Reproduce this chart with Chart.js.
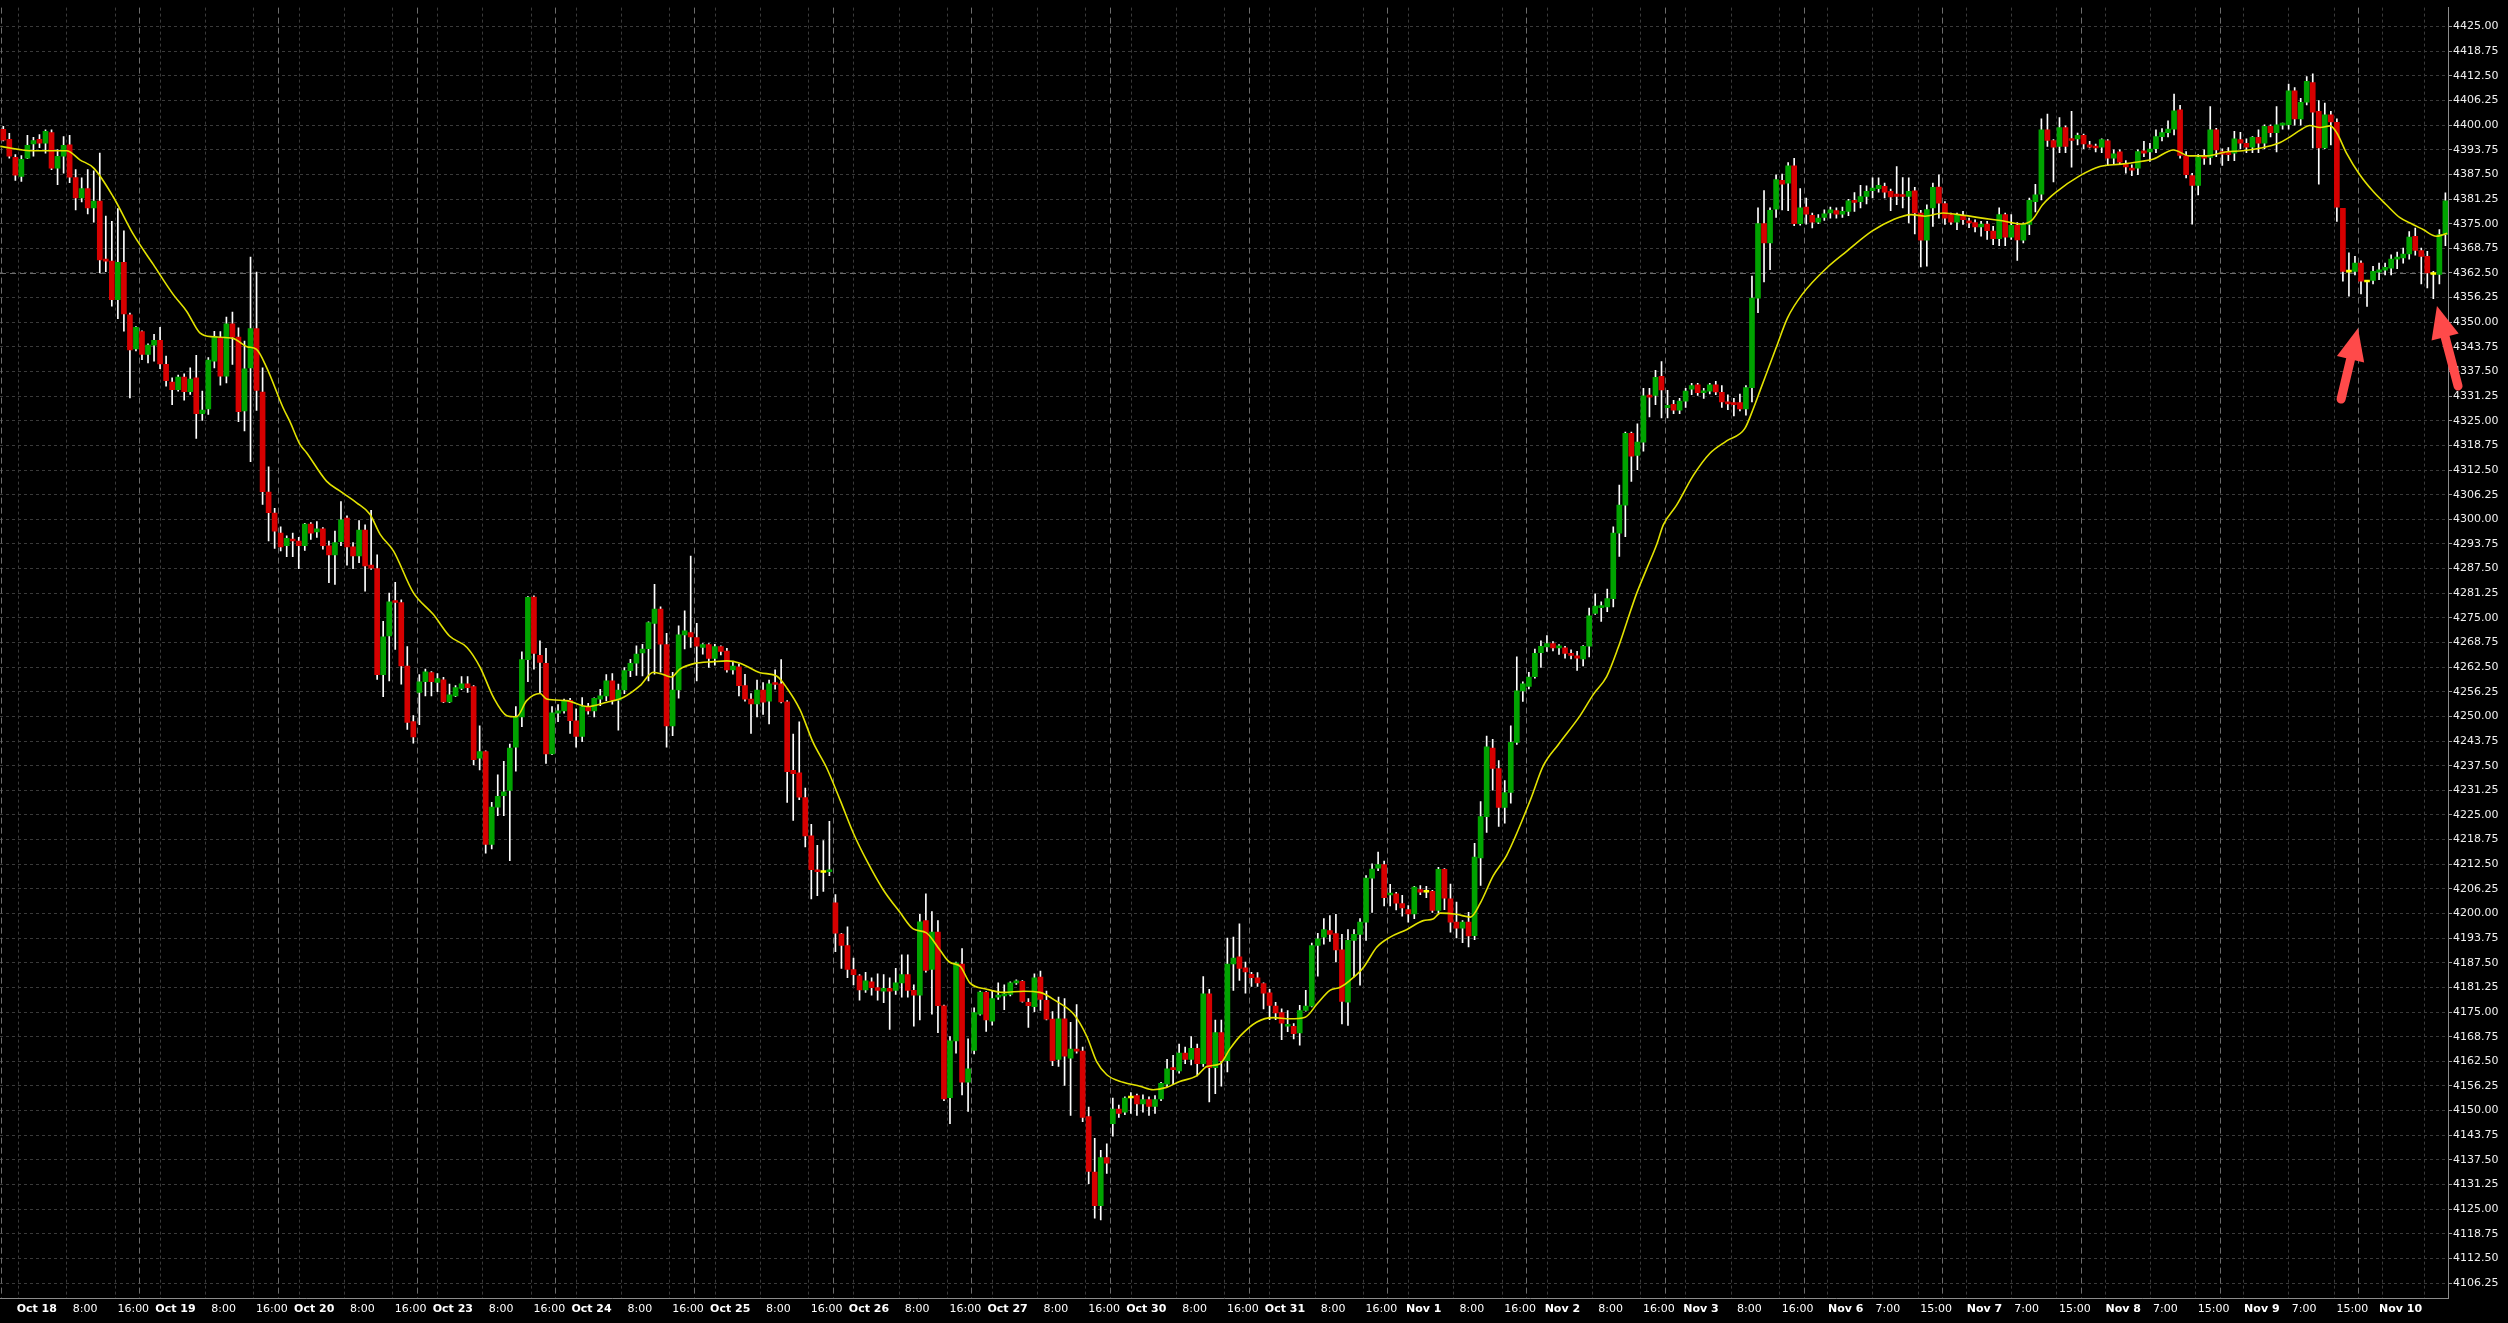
<!DOCTYPE html>
<html>
<head>
<meta charset="utf-8">
<script src="https://cdn.jsdelivr.net/npm/chart.js@4.4.1/dist/chart.umd.min.js"></script>
<style>
    html, body { margin: 0; padding: 0; background: #000; }
    canvas { display: block; }
</style>
</head>
<body>
<canvas id="chart" width="2508" height="1323"></canvas>
<script>
// hourly candles (index 0 = first bar on the left)
const opens = [
    4398.9, 4396.4, 4391.8, 4387.0, 4391.6, 4395.2, 4396.4, 4395.4, 4398.1, 4389.1,
    4392.1, 4395.0, 4386.7, 4381.5, 4383.9, 4379.0, 4380.7, 4366.0, 4365.5, 4355.7,
    4365.2, 4351.9, 4343.2, 4347.6, 4341.8, 4344.2, 4345.4, 4339.3, 4334.8, 4332.9,
    4336.1, 4332.4, 4335.9, 4326.8, 4328.0, 4340.1, 4345.9, 4336.3, 4349.6, 4346.2,
    4327.5, 4338.4, 4348.4, 4332.3, 4306.9, 4301.6, 4296.5, 4293.3, 4295.0, 4294.5,
    4293.3, 4298.8, 4296.8, 4297.6, 4293.3, 4291.0, 4294.3, 4300.3, 4293.0, 4290.7,
    4297.3, 4288.4, 4287.5, 4260.6, 4270.4, 4279.3, 4278.9, 4262.8, 4248.7, 4256.1,
    4258.8, 4261.1, 4258.6, 4259.3, 4253.7, 4255.2, 4257.1, 4258.3, 4257.6, 4239.4,
    4241.1, 4217.5, 4227.0, 4229.9, 4231.2, 4242.2, 4249.9, 4264.4, 4280.3, 4265.5,
    4263.5, 4240.5, 4250.8, 4251.4, 4254.1, 4248.9, 4244.9, 4252.5, 4251.4, 4254.4,
    4255.2, 4259.0, 4254.1, 4256.7, 4261.6, 4263.5, 4266.1, 4267.2, 4273.6, 4277.2,
    4268.2, 4247.6, 4256.7, 4270.7, 4271.3, 4270.0, 4267.5, 4268.2, 4264.7, 4267.7,
    4266.6, 4261.8, 4262.6, 4257.8, 4254.4, 4253.2, 4256.7, 4253.9, 4258.6, 4258.3,
    4253.7, 4236.3, 4235.7, 4229.4, 4219.7, 4211.1, 4210.4, 4210.6, 4202.7, 4194.8,
    4191.9, 4185.8, 4184.2, 4180.6, 4182.7, 4181.2, 4180.3, 4181.0, 4180.5, 4182.4,
    4184.5, 4180.5, 4179.3, 4198.2, 4185.8, 4195.3, 4176.6, 4153.3, 4167.7, 4187.2,
    4157.2, 4165.3, 4174.5, 4180.0, 4172.7, 4178.8, 4179.1, 4179.5, 4182.4, 4182.8,
    4177.5, 4176.4, 4183.9, 4178.0, 4173.2, 4163.0, 4173.3, 4163.3, 4165.6, 4165.1,
    4148.5, 4134.4, 4125.9, 4138.1, 4146.7, 4150.4, 4149.6, 4153.2, 4153.8, 4151.7,
    4152.8, 4151.1, 4153.0, 4156.7, 4160.9, 4160.1, 4164.6, 4163.0, 4165.8, 4161.9,
    4179.6, 4160.9, 4169.8, 4162.7, 4187.2, 4189.0, 4186.2, 4184.6, 4183.7, 4182.2,
    4179.9, 4176.5, 4174.9, 4171.4, 4171.4, 4169.7, 4175.4, 4176.5, 4191.9, 4194.0,
    4195.7, 4194.9, 4190.8, 4177.5, 4193.2, 4194.7, 4197.8, 4209.0, 4211.5, 4212.4,
    4204.7, 4205.0, 4202.5, 4201.0, 4199.9, 4206.1, 4205.4, 4205.6, 4200.8, 4211.2,
    4203.7, 4197.8, 4196.3, 4197.8, 4194.4, 4214.1, 4224.6, 4242.0, 4236.8, 4226.9,
    4230.7, 4243.4, 4256.5, 4257.6, 4260.1, 4266.2, 4267.6, 4268.5, 4267.4, 4267.4,
    4266.0, 4265.4, 4264.6, 4267.8, 4276.1, 4277.6, 4277.8, 4279.9, 4296.5, 4303.6,
    4321.8, 4316.2, 4319.6, 4331.4, 4331.4, 4336.3, 4328.3, 4329.2, 4327.7, 4330.0,
    4333.0, 4334.1, 4332.1, 4332.5, 4334.1, 4332.2, 4329.6, 4329.4, 4329.6, 4328.0,
    4333.4, 4356.1, 4375.0, 4370.1, 4378.7, 4386.0, 4385.3, 4389.7, 4375.0, 4379.2,
    4377.1, 4375.4, 4376.6, 4377.7, 4378.3, 4377.4, 4378.1, 4380.8, 4380.6, 4381.9,
    4383.4, 4383.9, 4384.5, 4383.2, 4382.5, 4382.3, 4381.9, 4383.3, 4377.7, 4370.8,
    4379.0, 4384.3, 4380.1, 4377.3, 4375.4, 4377.1, 4375.6, 4375.3, 4374.2, 4374.9,
    4373.1, 4371.2, 4377.3, 4371.6, 4374.6, 4370.8, 4374.8, 4380.6, 4382.5, 4398.8,
    4396.1, 4394.6, 4399.4, 4396.5, 4396.5, 4397.4, 4395.0, 4394.6, 4394.4, 4396.0,
    4391.6, 4393.2, 4390.1, 4388.9, 4389.1, 4393.5, 4393.2, 4394.0, 4397.1, 4398.1,
    4399.0, 4403.9, 4392.3, 4387.2, 4384.7, 4392.0, 4391.8, 4398.8, 4393.3, 4393.2,
    4392.9, 4396.3, 4395.4, 4394.4, 4396.9, 4395.4, 4399.7, 4398.1, 4400.0, 4400.1,
    4408.7, 4401.6, 4405.8, 4410.8, 4403.5, 4394.2, 4402.6, 4400.7, 4378.9, 4362.7,
    4362.9, 4365.0, 4360.2, 4360.6, 4362.7, 4363.2, 4363.7, 4366.0, 4366.3, 4367.3,
    4371.8, 4368.2, 4366.7, 4362.1, 4362.1, 4372.2,
];
const highs = [
    4399.7, 4397.9, 4392.5, 4392.3, 4397.4, 4396.9, 4397.6, 4398.8, 4398.8, 4393.8,
    4397.1, 4397.4, 4388.7, 4386.6, 4388.7, 4388.4, 4392.9, 4376.9, 4375.6, 4378.8,
    4373.2, 4352.3, 4348.9, 4347.8, 4344.5, 4346.9, 4348.7, 4341.4, 4335.9, 4336.6,
    4336.9, 4338.4, 4341.6, 4332.5, 4341.0, 4347.7, 4347.6, 4351.3, 4352.6, 4348.6,
    4345.2, 4366.5, 4362.7, 4338.4, 4313.3, 4302.8, 4298.1, 4295.8, 4296.5, 4295.4,
    4299.0, 4299.2, 4299.4, 4297.9, 4294.5, 4297.0, 4304.5, 4300.9, 4294.1, 4299.7,
    4298.6, 4302.3, 4291.0, 4274.1, 4281.3, 4284.0, 4279.6, 4267.7, 4250.2, 4260.6,
    4262.0, 4261.4, 4260.9, 4259.9, 4258.2, 4257.8, 4260.1, 4260.1, 4257.8, 4247.6,
    4241.3, 4228.2, 4235.2, 4238.6, 4243.0, 4252.5, 4266.4, 4280.4, 4280.6, 4269.2,
    4267.3, 4252.5, 4253.0, 4254.4, 4254.6, 4251.9, 4254.8, 4253.3, 4254.7, 4256.9,
    4260.6, 4260.9, 4258.2, 4262.4, 4264.5, 4267.9, 4268.3, 4274.0, 4283.5, 4277.8,
    4271.1, 4261.2, 4273.0, 4276.8, 4290.7, 4273.6, 4268.5, 4268.5, 4268.3, 4267.9,
    4267.3, 4263.7, 4263.3, 4260.7, 4255.8, 4259.2, 4258.6, 4259.2, 4261.8, 4264.4,
    4254.0, 4245.5, 4248.6, 4231.8, 4222.6, 4217.3, 4218.5, 4223.4, 4204.8, 4195.0,
    4196.6, 4188.7, 4184.5, 4185.1, 4183.7, 4184.7, 4184.5, 4183.7, 4186.1, 4189.5,
    4189.5, 4181.9, 4199.8, 4205.0, 4200.5, 4198.2, 4176.8, 4168.8, 4187.7, 4191.1,
    4168.2, 4176.1, 4180.3, 4180.2, 4180.3, 4182.4, 4181.9, 4182.7, 4183.2, 4183.0,
    4178.4, 4184.7, 4185.4, 4180.3, 4175.1, 4178.8, 4178.4, 4172.4, 4176.9, 4166.1,
    4150.9, 4143.0, 4139.9, 4141.6, 4153.2, 4151.4, 4153.5, 4154.6, 4154.2, 4154.0,
    4153.5, 4153.8, 4157.2, 4163.0, 4164.0, 4166.9, 4166.1, 4168.8, 4166.9, 4184.0,
    4180.8, 4173.0, 4173.0, 4193.8, 4194.0, 4197.4, 4187.7, 4185.1, 4185.0, 4182.4,
    4180.8, 4177.5, 4175.8, 4175.4, 4172.1, 4176.7, 4180.5, 4192.5, 4195.0, 4198.7,
    4199.5, 4199.8, 4194.7, 4195.9, 4195.9, 4198.7, 4209.6, 4212.6, 4215.6, 4213.3,
    4207.4, 4205.4, 4204.6, 4202.0, 4206.9, 4207.1, 4206.9, 4205.9, 4211.7, 4211.4,
    4207.5, 4202.9, 4198.2, 4200.3, 4217.8, 4228.4, 4245.0, 4244.2, 4238.8, 4233.7,
    4247.6, 4265.1, 4258.8, 4261.2, 4267.1, 4269.2, 4270.5, 4269.0, 4268.2, 4267.8,
    4266.9, 4266.5, 4268.0, 4277.5, 4281.1, 4279.1, 4282.3, 4298.1, 4308.7, 4322.1,
    4322.1, 4324.2, 4333.2, 4333.2, 4337.8, 4340.0, 4332.7, 4330.2, 4330.7, 4333.2,
    4334.5, 4334.5, 4333.2, 4334.5, 4335.0, 4333.9, 4331.6, 4330.7, 4331.8, 4333.9,
    4361.7, 4379.0, 4383.4, 4379.0, 4387.4, 4387.6, 4390.5, 4391.6, 4383.9, 4381.5,
    4377.7, 4377.3, 4378.5, 4379.2, 4379.0, 4379.2, 4381.2, 4382.9, 4384.7, 4384.6,
    4386.6, 4386.6, 4385.3, 4383.8, 4389.5, 4386.7, 4386.6, 4384.2, 4378.4, 4379.8,
    4385.3, 4387.4, 4380.6, 4377.7, 4377.7, 4378.1, 4376.4, 4376.0, 4375.6, 4375.6,
    4374.3, 4379.0, 4377.7, 4377.3, 4375.3, 4375.2, 4381.5, 4385.0, 4401.6, 4402.8,
    4396.3, 4401.9, 4399.8, 4403.5, 4398.0, 4397.7, 4395.9, 4395.2, 4396.5, 4396.3,
    4393.7, 4393.7, 4391.0, 4389.9, 4393.7, 4395.9, 4395.4, 4398.8, 4399.1, 4401.1,
    4407.9, 4405.0, 4393.3, 4387.8, 4392.5, 4393.7, 4404.7, 4399.2, 4394.0, 4394.3,
    4398.4, 4398.2, 4396.5, 4397.1, 4398.8, 4400.1, 4400.1, 4404.7, 4400.5, 4410.4,
    4409.5, 4406.8, 4412.3, 4413.0, 4406.2, 4405.6, 4403.5, 4401.6, 4378.9, 4367.6,
    4366.7, 4365.6, 4360.4, 4364.2, 4365.0, 4365.0, 4367.1, 4367.8, 4368.8, 4373.0,
    4373.9, 4368.8, 4368.0, 4362.9, 4373.5, 4382.8,
];
const lows = [
    4396.0, 4391.6, 4386.0, 4385.7, 4391.5, 4392.1, 4394.3, 4392.9, 4388.7, 4384.9,
    4387.8, 4385.4, 4378.5, 4380.5, 4377.5, 4375.4, 4362.5, 4362.8, 4354.1, 4350.9,
    4347.7, 4330.8, 4342.7, 4340.5, 4339.7, 4340.1, 4338.2, 4333.8, 4329.1, 4332.5,
    4330.2, 4331.7, 4320.5, 4325.1, 4326.6, 4338.4, 4334.0, 4334.6, 4339.3, 4324.8,
    4322.4, 4314.6, 4327.6, 4303.8, 4294.5, 4292.6, 4292.0, 4290.5, 4290.5, 4287.5,
    4292.1, 4294.9, 4295.4, 4292.4, 4283.9, 4283.5, 4293.3, 4288.4, 4287.5, 4289.0,
    4281.8, 4287.3, 4259.4, 4255.0, 4259.0, 4267.0, 4258.2, 4246.7, 4243.2, 4247.9,
    4255.2, 4255.2, 4256.3, 4253.5, 4253.5, 4255.0, 4256.8, 4256.1, 4237.7, 4236.4,
    4215.3, 4216.4, 4224.8, 4224.8, 4213.4, 4236.1, 4247.4, 4258.8, 4262.0, 4255.8,
    4238.1, 4240.3, 4248.7, 4250.8, 4245.7, 4242.2, 4243.6, 4250.6, 4249.9, 4252.7,
    4254.0, 4253.1, 4246.5, 4255.8, 4260.1, 4260.4, 4260.3, 4259.0, 4260.7, 4261.2,
    4242.2, 4245.1, 4254.6, 4267.1, 4267.5, 4259.0, 4265.8, 4262.4, 4263.0, 4265.6,
    4261.2, 4260.7, 4255.2, 4253.9, 4245.7, 4249.9, 4250.5, 4248.1, 4256.9, 4253.4,
    4228.2, 4223.6, 4228.9, 4216.9, 4203.7, 4204.5, 4205.6, 4209.6, 4190.3, 4186.1,
    4183.7, 4181.9, 4178.0, 4180.0, 4179.3, 4178.0, 4177.4, 4170.6, 4179.5, 4178.8,
    4178.8, 4171.4, 4173.0, 4185.1, 4174.5, 4169.8, 4152.5, 4146.7, 4164.6, 4154.0,
    4149.8, 4164.4, 4174.2, 4170.1, 4171.7, 4178.2, 4175.6, 4179.1, 4182.0, 4177.5,
    4171.1, 4175.1, 4175.4, 4173.0, 4161.4, 4161.2, 4156.4, 4148.8, 4164.6, 4147.2,
    4131.5, 4122.7, 4122.3, 4134.1, 4143.5, 4148.3, 4149.0, 4149.3, 4148.8, 4149.6,
    4148.8, 4149.3, 4152.5, 4156.1, 4156.7, 4159.5, 4161.9, 4161.6, 4158.8, 4161.2,
    4152.2, 4154.3, 4156.2, 4159.8, 4180.5, 4183.0, 4179.8, 4181.5, 4181.5, 4175.8,
    4173.1, 4173.1, 4168.0, 4170.0, 4168.2, 4166.6, 4175.2, 4176.3, 4184.1, 4192.2,
    4192.9, 4187.7, 4172.0, 4171.6, 4183.9, 4181.8, 4193.2, 4200.3, 4210.9, 4201.9,
    4201.9, 4200.9, 4199.3, 4197.8, 4198.7, 4204.8, 4204.0, 4200.3, 4200.1, 4201.0,
    4195.3, 4193.8, 4192.6, 4191.5, 4193.4, 4207.1, 4220.6, 4231.3, 4222.1, 4222.9,
    4228.0, 4242.9, 4253.8, 4257.0, 4259.7, 4262.4, 4266.5, 4266.6, 4265.7, 4264.8,
    4264.6, 4261.7, 4262.8, 4265.1, 4275.9, 4274.1, 4276.6, 4277.8, 4290.6, 4295.6,
    4309.6, 4312.6, 4317.3, 4326.0, 4329.1, 4325.7, 4325.7, 4326.8, 4326.8, 4328.4,
    4331.6, 4331.4, 4330.7, 4331.8, 4331.6, 4328.4, 4327.8, 4326.2, 4327.5, 4326.4,
    4329.8, 4352.4, 4360.2, 4363.3, 4376.6, 4378.5, 4378.3, 4374.5, 4374.6, 4374.9,
    4373.9, 4375.0, 4375.8, 4376.4, 4376.4, 4376.6, 4377.0, 4378.1, 4379.0, 4380.0,
    4381.5, 4383.0, 4381.5, 4378.3, 4379.8, 4379.0, 4375.2, 4372.4, 4364.0, 4364.2,
    4374.3, 4376.4, 4374.8, 4374.8, 4373.5, 4374.8, 4374.0, 4372.9, 4371.8, 4371.0,
    4369.7, 4369.4, 4369.4, 4371.0, 4365.7, 4370.1, 4372.2, 4378.0, 4381.0, 4394.6,
    4385.6, 4393.0, 4393.0, 4389.3, 4395.0, 4394.0, 4394.2, 4393.2, 4393.0, 4389.7,
    4390.0, 4390.0, 4387.8, 4387.2, 4387.4, 4392.0, 4390.8, 4393.0, 4396.0, 4397.0,
    4397.5, 4391.6, 4386.6, 4374.9, 4382.3, 4390.0, 4390.0, 4392.0, 4389.8, 4391.0,
    4391.0, 4394.0, 4393.0, 4393.0, 4393.0, 4394.0, 4397.0, 4393.2, 4399.0, 4399.0,
    4400.0, 4400.0, 4405.1, 4394.2, 4385.0, 4394.0, 4395.0, 4375.6, 4360.4, 4356.6,
    4362.0, 4357.2, 4354.0, 4359.7, 4360.8, 4362.0, 4362.0, 4363.6, 4365.0, 4366.0,
    4367.0, 4359.7, 4358.7, 4356.0, 4359.7, 4369.4,
];
const closes = [
    4396.2, 4392.1, 4387.3, 4391.3, 4394.9, 4396.1, 4395.4, 4398.4, 4389.1, 4392.1,
    4394.9, 4386.8, 4381.5, 4383.9, 4379.0, 4380.7, 4365.8, 4365.5, 4355.7, 4365.2,
    4352.1, 4343.0, 4348.7, 4341.8, 4344.2, 4345.4, 4339.4, 4335.2, 4332.9, 4336.1,
    4332.4, 4335.6, 4326.8, 4327.7, 4340.4, 4346.4, 4336.3, 4349.6, 4346.2, 4327.3,
    4338.2, 4348.4, 4332.7, 4307.0, 4301.7, 4297.0, 4293.0, 4295.2, 4294.5, 4293.3,
    4298.8, 4296.5, 4297.6, 4293.3, 4291.0, 4294.1, 4299.9, 4293.0, 4290.7, 4297.3,
    4288.2, 4287.6, 4260.6, 4270.2, 4279.1, 4278.9, 4262.8, 4248.5, 4244.8, 4258.8,
    4261.3, 4258.8, 4259.6, 4253.7, 4255.5, 4257.3, 4258.3, 4257.3, 4239.0, 4241.1,
    4217.5, 4227.0, 4229.7, 4230.9, 4242.0, 4249.8, 4264.4, 4280.2, 4266.0, 4263.7,
    4240.5, 4250.9, 4251.4, 4254.0, 4248.9, 4244.9, 4252.5, 4251.4, 4254.6, 4255.2,
    4259.0, 4254.1, 4256.7, 4261.6, 4263.5, 4265.8, 4267.1, 4273.8, 4277.2, 4268.3,
    4247.6, 4256.7, 4270.7, 4271.7, 4270.2, 4267.8, 4268.2, 4264.7, 4267.7, 4266.5,
    4261.8, 4262.8, 4257.8, 4254.4, 4253.2, 4256.7, 4253.6, 4258.3, 4258.1, 4253.7,
    4236.0, 4235.5, 4229.5, 4219.7, 4211.1, 4210.6, 4210.4, 4211.1, 4195.0, 4191.9,
    4185.8, 4184.5, 4180.6, 4182.9, 4181.2, 4180.5, 4181.0, 4180.3, 4182.4, 4184.5,
    4180.5, 4179.3, 4197.9, 4185.6, 4195.3, 4176.6, 4153.0, 4167.7, 4187.5, 4157.2,
    4160.6, 4174.9, 4180.1, 4173.0, 4178.4, 4179.2, 4179.5, 4182.4, 4182.9, 4177.7,
    4176.6, 4183.7, 4178.2, 4173.2, 4162.7, 4173.3, 4163.8, 4165.6, 4165.1, 4148.3,
    4134.6, 4125.9, 4138.1, 4136.7, 4150.4, 4149.3, 4153.2, 4153.2, 4151.7, 4152.8,
    4151.1, 4152.8, 4156.9, 4160.6, 4160.4, 4164.6, 4163.0, 4165.8, 4161.9, 4179.6,
    4160.9, 4169.8, 4162.7, 4187.2, 4188.7, 4186.1, 4185.2, 4183.7, 4182.4, 4179.8,
    4176.7, 4174.8, 4172.2, 4171.9, 4169.5, 4175.4, 4176.5, 4191.9, 4193.6, 4195.9,
    4194.7, 4190.8, 4177.7, 4193.2, 4194.7, 4197.8, 4209.0, 4211.3, 4212.4, 4204.0,
    4205.1, 4202.6, 4201.4, 4199.9, 4206.7, 4205.4, 4205.4, 4200.8, 4211.2, 4203.9,
    4197.8, 4196.3, 4197.8, 4194.3, 4214.3, 4224.6, 4242.3, 4236.8, 4226.9, 4230.7,
    4243.4, 4256.5, 4258.3, 4260.0, 4266.0, 4267.8, 4268.5, 4267.4, 4267.6, 4266.0,
    4265.5, 4264.8, 4267.8, 4275.5, 4278.0, 4277.8, 4279.9, 4296.5, 4303.6, 4321.8,
    4316.0, 4319.6, 4331.3, 4331.0, 4336.0, 4332.8, 4328.9, 4327.7, 4330.0, 4332.5,
    4333.9, 4332.1, 4332.5, 4334.1, 4332.3, 4329.8, 4329.3, 4329.1, 4328.0, 4333.4,
    4356.1, 4375.0, 4370.1, 4378.4, 4386.2, 4385.0, 4389.7, 4375.0, 4379.0, 4377.4,
    4375.4, 4376.4, 4377.5, 4378.5, 4377.4, 4378.1, 4380.8, 4380.4, 4381.9, 4383.2,
    4384.0, 4384.7, 4383.0, 4381.8, 4381.9, 4381.9, 4383.2, 4377.7, 4370.8, 4378.6,
    4384.2, 4380.2, 4376.4, 4375.4, 4377.3, 4376.0, 4375.2, 4374.2, 4374.9, 4373.2,
    4371.2, 4377.3, 4371.6, 4374.6, 4370.9, 4374.8, 4380.9, 4382.3, 4398.8, 4396.1,
    4394.4, 4399.4, 4394.6, 4396.1, 4397.4, 4395.2, 4394.4, 4394.2, 4396.3, 4391.6,
    4392.7, 4390.6, 4389.4, 4388.6, 4393.3, 4392.9, 4393.9, 4397.1, 4398.1, 4399.0,
    4403.6, 4392.3, 4387.4, 4384.7, 4391.8, 4391.6, 4398.8, 4393.7, 4392.6, 4392.5,
    4396.5, 4395.4, 4394.4, 4396.9, 4395.4, 4399.7, 4398.1, 4400.1, 4400.1, 4408.7,
    4401.6, 4405.8, 4411.1, 4403.3, 4394.2, 4402.6, 4400.8, 4379.2, 4362.9, 4362.7,
    4365.0, 4360.4, 4360.2, 4362.9, 4363.3, 4363.9, 4366.0, 4366.5, 4367.3, 4371.6,
    4368.2, 4366.7, 4362.5, 4362.1, 4372.2, 4380.8,
];

// moving average line at these bar positions
const maIndex = [
    -0.5, 5, 10.5, 12.7, 15, 18.2, 21.6, 24.9, 28.2, 30.4, 32.6, 34.8, 38.1, 40.4, 42, 43.7,
    46.4, 47.5, 49.2, 50.3, 53.6, 55.8, 58.6, 60.8, 62.5, 64.7, 68, 71.3, 74, 76.9, 79.1,
    81.3, 83.5, 85.1, 86.8, 89, 90.1, 93.4, 96.8, 100.1, 102.8, 105.6, 107.8, 109.5, 110.8,
    112.2, 114.5, 117.8, 120, 122.2, 125.5, 128.3, 130, 132.1, 134.3, 136.5, 138.8, 141,
    143.2, 145.9, 148.7, 150.9, 153.1, 155.3, 156.9, 158.7, 160.3, 163.1, 165.9, 169.2,
    171.9, 174.7, 177.5, 179.7, 181.3, 183, 185.7, 188.5, 190.7, 192.9, 195.1, 197.9, 199.6,
    201.8, 203.4, 205.1, 207.9, 210.6, 213.4, 215.9, 217.9, 220, 221.7, 223.3, 225.6, 227.8,
    230, 232.7, 235.5, 237.1, 238.3, 241, 243.3, 244.9, 247.1, 249.3, 253.2, 255.4, 257.9,
    261.5, 263.7, 265.9, 267.8, 269.2, 270.8, 272.5, 274.2, 275.3, 277.5, 280.3, 283, 285.8,
    288.8, 290.2, 291.4, 294, 295.9, 298.3, 302.7, 305.7, 309.9, 313.4, 316.4, 318.7, 321.7,
    325.2, 328.2, 331.2, 334.7, 336.5, 338.2, 340.6, 344.2, 347.7, 351.2, 353.6, 356.6,
    359.9, 362.5, 365.5, 368.5, 371.4, 374.4, 377.3, 379.1, 381, 382.5, 384.2, 385.9, 387,
    388.6, 390.8, 393, 395.2, 397.4, 399.6, 401.3, 403.5, 404.6, 405.3,
];
const maValues = [
    4394.6, 4393.5, 4393.5, 4391.2, 4389.1, 4381.9, 4372.2, 4364.6, 4357.0, 4352.8, 4347.3,
    4346.3, 4345.9, 4343.8, 4343.1, 4338.4, 4328.3, 4324.9, 4319.0, 4316.9, 4309.7, 4307.2,
    4304.2, 4301.3, 4296.2, 4292.0, 4281.4, 4275.9, 4270.4, 4267.5, 4262.4, 4254.8, 4250.2,
    4249.9, 4254.0, 4255.8, 4254.4, 4254.0, 4252.5, 4253.6, 4254.8, 4257.8, 4261.2, 4260.6,
    4260.0, 4262.0, 4263.4, 4263.9, 4264.1, 4263.5, 4261.1, 4260.2, 4257.1, 4251.8, 4243.4,
    4237.1, 4228.7, 4220.3, 4213.4, 4206.1, 4200.3, 4196.1, 4195.1, 4190.8, 4187.7, 4186.6,
    4182.4, 4180.8, 4180.0, 4180.3, 4180.0, 4177.7, 4174.5, 4168.8, 4162.5, 4159.1, 4157.2,
    4156.2, 4155.3, 4155.9, 4157.4, 4158.8, 4161.2, 4161.9, 4165.6, 4168.9, 4172.5, 4173.6,
    4173.3, 4173.7, 4177.1, 4180.5, 4181.3, 4183.0, 4186.4, 4191.5, 4194.0, 4195.9, 4198.2,
    4198.6, 4200.1, 4199.8, 4199.1, 4202.5, 4209.6, 4214.7, 4228.6, 4237.5, 4242.9, 4250.2,
    4255.6, 4260.1, 4267.4, 4273.7, 4280.9, 4287.3, 4293.6, 4298.6, 4303.6, 4311.2, 4316.7,
    4319.9, 4323.0, 4328.0, 4332.9, 4343.5, 4351.1, 4357.0, 4364.2, 4368.0, 4373.1, 4376.0,
    4377.3, 4376.9, 4377.7, 4377.1, 4376.4, 4375.8, 4374.9, 4376.0, 4379.8, 4383.2, 4387.0,
    4389.5, 4390.1, 4390.6, 4391.4, 4393.7, 4392.2, 4392.2, 4393.2, 4393.5, 4394.2, 4395.4,
    4396.9, 4398.8, 4399.9, 4399.4, 4399.8, 4398.0, 4392.9, 4387.4, 4383.2, 4379.8, 4376.6,
    4374.8, 4373.5, 4371.8, 4372.2, 4372.6,
];

// time axis: bar index of each labelled grid line, and its text
const xTickIndex = [
    7, 15, 23, 30, 38, 46, 53, 61, 69, 76, 84, 92, 99, 107, 115, 122, 130, 138,
    145, 153, 161, 168, 176, 184, 191, 199, 207, 214, 222, 230, 237, 245, 253,
    260, 268, 276, 283, 291, 299, 307, 314, 322, 330, 337, 345, 353, 360, 368,
    376, 383, 391, 399, 405,
];
const xTickLabels = [
    'Oct 18', '8:00', '16:00', 'Oct 19', '8:00', '16:00', 'Oct 20', '8:00', '16:00',
    'Oct 23', '8:00', '16:00', 'Oct 24', '8:00', '16:00', 'Oct 25', '8:00', '16:00',
    'Oct 26', '8:00', '16:00', 'Oct 27', '8:00', '16:00', 'Oct 30', '8:00', '16:00',
    'Oct 31', '8:00', '16:00', 'Nov 1', '8:00', '16:00', 'Nov 2', '8:00', '16:00',
    'Nov 3', '8:00', '16:00', 'Nov 6', '7:00', '15:00', 'Nov 7', '7:00', '15:00',
    'Nov 8', '7:00', '15:00', 'Nov 9', '7:00', '15:00', 'Nov 10', '',
];
// session breaks get the brighter dashed line
const sessionBreaks = [0, 23, 46, 69, 92, 115, 138, 161, 184, 207, 230, 253, 276, 299, 322, 345, 368, 391];

const yTickValues = [
    4106.25, 4112.5, 4118.75, 4125, 4131.25, 4137.5, 4143.75, 4150, 4156.25, 4162.5,
    4168.75, 4175, 4181.25, 4187.5, 4193.75, 4200, 4206.25, 4212.5, 4218.75, 4225,
    4231.25, 4237.5, 4243.75, 4250, 4256.25, 4262.5, 4268.75, 4275, 4281.25, 4287.5,
    4293.75, 4300, 4306.25, 4312.5, 4318.75, 4325, 4331.25, 4337.5, 4343.75, 4350,
    4356.25, 4362.5, 4368.75, 4375, 4381.25, 4387.5, 4393.75, 4400, 4406.25, 4412.5,
    4418.75, 4425,
];
const priceLine = 4362.5;

// annotation arrows, tail -> tip in (bar index, price)
const arrows = [
    { from: [387.7, 4330.5], to: [390.5, 4348.5] },
    { from: [407.1, 4333.8], to: [403.6, 4354.1] },
];

const FONT = '"DejaVu Sans", Verdana, sans-serif';
const GRID_SHIFT = -0.45;

const colors = {
    up: '#00a300',
    down: '#d60000',
    doji: '#ffff00',
    wick: '#ffffff',
    ma: '#e2e200',
    grid: '#3a3a3a',
    session: '#6c6c6c',
    axis: '#8c8c8c',
    arrow: '#ff4a4a',
};

function bodyColor(i) {
    if (closes[i] > opens[i]) return colors.up;
    if (closes[i] < opens[i]) return colors.down;
    return colors.doji;
}

function drawArrow(ctx, x0, y0, x1, y1) {
    const ang = Math.atan2(y1 - y0, x1 - x0);
    const headLen = 32;
    const headHalf = 14;
    const bx = x1 - headLen * Math.cos(ang);
    const by = y1 - headLen * Math.sin(ang);
    ctx.strokeStyle = colors.arrow;
    ctx.fillStyle = colors.arrow;
    ctx.lineWidth = 9;
    ctx.lineCap = 'round';
    ctx.beginPath();
    ctx.moveTo(x0, y0);
    ctx.lineTo(bx, by);
    ctx.stroke();
    ctx.beginPath();
    ctx.moveTo(x1, y1);
    ctx.lineTo(bx + headHalf * Math.sin(ang), by - headHalf * Math.cos(ang));
    ctx.lineTo(bx - headHalf * Math.sin(ang), by + headHalf * Math.cos(ang));
    ctx.closePath();
    ctx.fill();
}

const overlay = {
    id: 'overlay',
    beforeDraw(chart) {
        const { ctx, width, height } = chart;
        ctx.save();
        ctx.fillStyle = '#000';
        ctx.fillRect(0, 0, width, height);
        ctx.restore();
    },
    beforeDatasetsDraw(chart) {
        const { ctx, chartArea: a, scales: { x, y } } = chart;
        ctx.save();
        ctx.strokeStyle = colors.session;
        ctx.lineWidth = 1;
        ctx.setLineDash([6, 4]);
        sessionBreaks.forEach(i => {
            const px = Math.round(x.getPixelForValue(i + GRID_SHIFT)) + 0.5;
            ctx.beginPath();
            ctx.moveTo(px, a.top);
            ctx.lineTo(px, a.bottom);
            ctx.stroke();
        });
        const py = Math.round(y.getPixelForValue(priceLine)) + 0.5;
        ctx.beginPath();
        ctx.moveTo(a.left, py);
        ctx.lineTo(a.right, py);
        ctx.stroke();
        ctx.restore();
    },
    afterDraw(chart) {
        const { ctx, scales: { x, y } } = chart;
        ctx.save();
        arrows.forEach(a => {
            drawArrow(ctx,
                x.getPixelForValue(a.from[0]), y.getPixelForValue(a.from[1]),
                x.getPixelForValue(a.to[0]), y.getPixelForValue(a.to[1]));
        });
        ctx.restore();
    },
};

const bars = opens.map((_, i) => i);

new Chart(document.getElementById('chart'), {
    type: 'bar',
    data: {
        datasets: [
            {
                type: 'line',
                data: maIndex.map((v, k) => ({ x: v, y: maValues[k] })),
                borderColor: colors.ma,
                borderWidth: 1.6,
                pointRadius: 0,
                cubicInterpolationMode: 'monotone',
                fill: false,
                order: 1,
            },
            {
                data: bars.map(i => ({ x: i, y: [opens[i], closes[i]] })),
                backgroundColor: bars.map(bodyColor),
                borderWidth: 0,
                barThickness: 5,
                minBarLength: 2,
                grouped: false,
                order: 2,
            },
            {
                data: bars.map(i => ({ x: i, y: [lows[i], highs[i]] })),
                backgroundColor: colors.wick,
                borderWidth: 0,
                barThickness: 1,
                grouped: false,
                order: 3,
            },
        ],
    },
    options: {
        responsive: false,
        animation: false,
        events: [],
        layout: { padding: { top: 6, left: 0, right: 0, bottom: 0 } },
        plugins: { legend: { display: false }, tooltip: { enabled: false } },
        scales: {
            x: {
                type: 'linear',
                bounds: 'data',
                min: -0.547,
                max: 405.43,
                offset: false,
                afterFit: s => { s.height = 25; },
                afterBuildTicks: s => { s.ticks = xTickIndex.map(v => ({ value: v + GRID_SHIFT })); },
                grid: { color: colors.grid, drawTicks: false },
                border: { color: colors.axis, dash: [3, 3] },
                ticks: {
                    autoSkip: false,
                    maxRotation: 0,
                    minRotation: 0,
                    color: '#ffffff',
                    padding: 5,
                    labelOffset: -6,
                    font: ctx => ({
                        family: FONT,
                        size: 11,
                        weight: /^(Oct|Nov)/.test(xTickLabels[ctx.index] || '') ? 'bold' : 'normal',
                    }),
                    callback: (value, index) => xTickLabels[index],
                },
            },
            y: {
                position: 'right',
                bounds: 'data',
                min: 4102.47,
                max: 4429.81,
                afterFit: s => { s.width = 60; },
                afterBuildTicks: s => { s.ticks = yTickValues.map(v => ({ value: v })); },
                grid: { color: colors.grid, tickColor: '#9a9a9a', tickLength: 4 },
                border: { color: colors.axis, dash: [3, 3] },
                ticks: {
                    color: '#f0f0f0',
                    padding: 1,
                    font: { family: FONT, size: 11 },
                    callback: value => Number(value).toFixed(2),
                },
            },
        },
    },
    plugins: [overlay],
});
</script>
</body>
</html>
